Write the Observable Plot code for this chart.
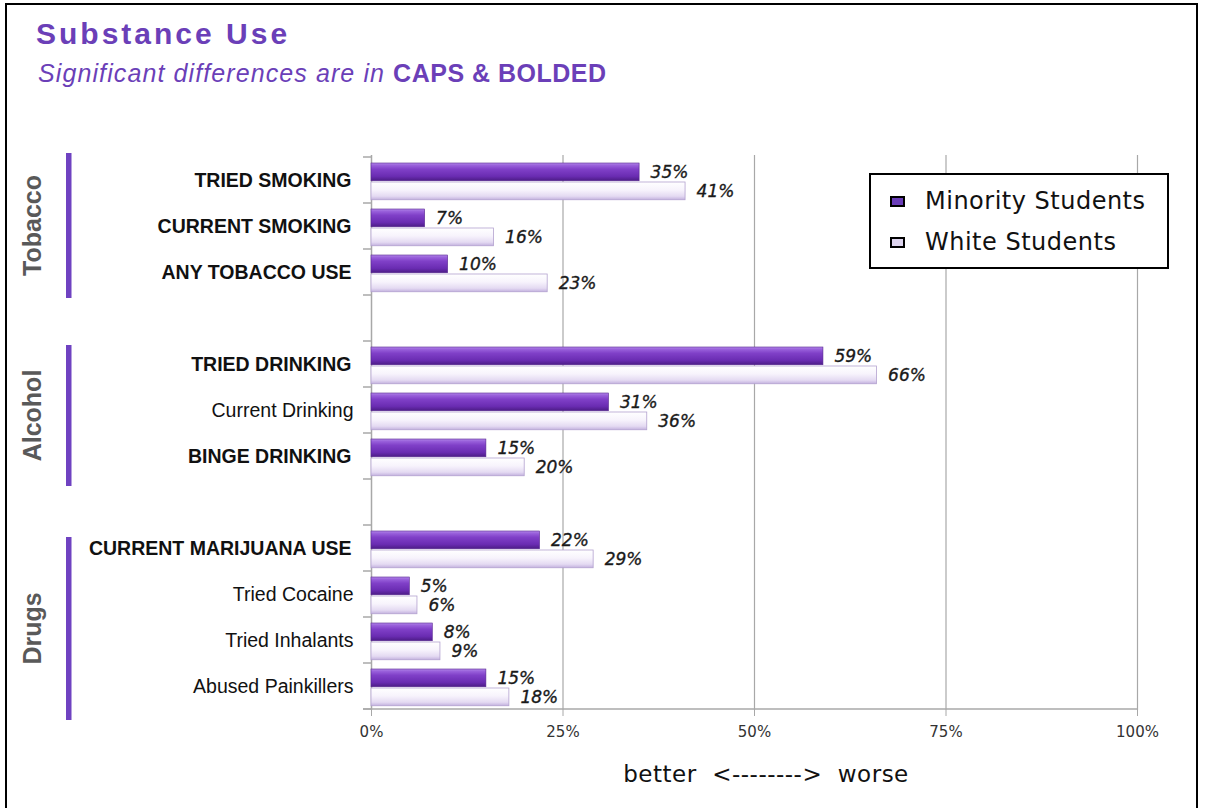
<!DOCTYPE html>
<html>
<head>
<meta charset="utf-8">
<script src="https://cdn.jsdelivr.net/npm/d3@7"></script>
<script src="https://cdn.jsdelivr.net/npm/@observablehq/plot@0.6"></script>
<style>
  html, body { margin: 0; padding: 0; background: #fff; }
  #page { position: relative; width: 1207px; height: 808px; overflow: hidden; background: #fff; }
  #frame { position: absolute; left: 5px; top: 3px; width: 1193px; height: 900px; border: 2.5px solid #000; box-sizing: border-box; }
  #title { position: absolute; left: 36px; top: 17px; font-family: "Liberation Sans", Arial, sans-serif; font-weight: bold; font-size: 30px; letter-spacing: 3px; color: #6b3fb8; }
  #subtitle { position: absolute; left: 38px; top: 59px; font-family: "Liberation Sans", Arial, sans-serif; font-style: italic; font-size: 25px; letter-spacing: 1.1px; color: #6b3fb8; }
  #subtitle b { font-style: normal; font-weight: bold; letter-spacing: 0.5px; }
  #chart { position: absolute; left: 0; top: 110px; }
  #legend { position: absolute; left: 869px; top: 173px; width: 300px; height: 96px; border: 2px solid #000; box-sizing: border-box; background: #fff; font-family: "DejaVu Sans", sans-serif; font-size: 24px; letter-spacing: 0.5px; color: #111; }
  .li { position: absolute; left: 19px; height: 28px; display: flex; align-items: center; }
  .sw { width: 11px; height: 7px; border: 2px solid #000; margin-right: 20px; }
  #better { position: absolute; left: 0; width: 1532px; top: 761px; text-align: center; font-family: "DejaVu Sans", sans-serif; font-size: 23px; color: #111; letter-spacing: 0.5px; white-space: pre; }
</style>
</head>
<body>
<div id="page">
  <div id="frame"></div>
  <div id="title">Substance Use</div>
  <div id="subtitle">Significant differences are in <b>CAPS &amp; BOLDED</b></div>
  <div id="chart"></div>
  <div id="legend">
    <div class="li" style="top:12px"><div class="sw" style="background:#6a3db8"></div>Minority Students</div>
    <div class="li" style="top:53px"><div class="sw" style="background:#ddd4ee"></div>White Students</div>
  </div>
  <div id="better">better  &lt;--------&gt;  worse</div>
</div>
<script>
// ---- data ----
const categories = ["TRIED SMOKING", "CURRENT SMOKING", "ANY TOBACCO USE",
  "TRIED DRINKING", "Current Drinking", "BINGE DRINKING",
  "CURRENT MARIJUANA USE", "Tried Cocaine", "Tried Inhalants", "Abused Painkillers"];
const groupOf = ["Tobacco", "Tobacco", "Tobacco", "Alcohol", "Alcohol", "Alcohol",
  "Drugs", "Drugs", "Drugs", "Drugs"];
const significant = [true, true, true, true, false, true, true, false, false, false];
const minority = [35, 7, 10, 59, 31, 15, 22, 5, 8, 15];
const white = [41, 16, 23, 66, 36, 20, 29, 6, 9, 18];
const groupNames = ["Tobacco", "Alcohol", "Drugs"];
const xTicks = [0, 25, 50, 75, 100];

// ---- build table ----
const rows = categories.map((c, i) => ({
  cat: c, group: groupOf[i], sig: significant[i], minority: minority[i] / 100, white: white[i] / 100
}));
const yDomain = [];
groupNames.forEach((g, gi) => {
  rows.filter(r => r.group === g).forEach(r => yDomain.push(r.cat));
  if (gi < groupNames.length - 1) yDomain.push("__gap" + gi);
});

const W = 1207, H = 698;
const mTop = 45, mBottom = 98, mLeft = 371, mRight = 70;
const step = (H - mTop - mBottom) / yDomain.length;

const defs = () => {
  const d = d3.create("svg:defs");
  const gm = d.append("linearGradient").attr("id", "gMin").attr("x1", 0).attr("y1", 0).attr("x2", 0).attr("y2", 1);
  [[0, "#b48ae8"], [0.12, "#9a62dc"], [0.35, "#8040c8"], [0.75, "#6a2cb2"], [1, "#4c1c86"]]
    .forEach(([o, c]) => gm.append("stop").attr("offset", o).attr("stop-color", c));
  const gw = d.append("linearGradient").attr("id", "gWhite").attr("x1", 0).attr("y1", 0).attr("x2", 0).attr("y2", 1);
  [[0, "#ffffff"], [0.45, "#f7f3fc"], [0.8, "#e4daf2"], [1, "#c3b1de"]]
    .forEach(([o, c]) => gw.append("stop").attr("offset", o).attr("stop-color", c));
  const f = d.append("filter").attr("id", "shadow").attr("x", "-5%").attr("y", "-30%").attr("width", "115%").attr("height", "180%");
  f.append("feDropShadow").attr("dx", 2).attr("dy", 2.5).attr("stdDeviation", 1.5)
    .attr("flood-color", "#777").attr("flood-opacity", 0.45);
  return d.node();
};

const valueText = (key, dyCenter) => Plot.text(rows, {
  y: "cat", x: key, text: d => Math.round(d[key] * 100) + "%",
  textAnchor: "start", dx: 11, dy: dyCenter - step / 2, fontSize: 17, fontStyle: "italic",
  fontFamily: "DejaVu Sans", fill: "#1a1a1a", stroke: "#1a1a1a", strokeWidth: 0.35, letterSpacing: 0.3
});

const plot = Plot.plot({
  width: W, height: H,
  marginTop: mTop, marginBottom: mBottom, marginLeft: mLeft, marginRight: mRight,
  style: { background: "transparent", overflow: "visible" },
  x: { domain: [0, 1], axis: null },
  y: { domain: yDomain, type: "band", padding: 0, axis: null },
  marks: [
    defs,
    Plot.gridX(xTicks.slice(1).map(d => d / 100), { stroke: "#a8a8a8", strokeOpacity: 1, strokeWidth: 1.2 }),
    Plot.ruleX([0], { stroke: "#a8a8a8", strokeWidth: 1.5 }),
    Plot.axisX(xTicks.map(d => d / 100), {
      tickFormat: d => Math.round(d * 100) + "%", tickSize: 6, stroke: "#a8a8a8",
      tickPadding: 10, fontSize: 15, fill: "#333", fontFamily: "DejaVu Sans", textStroke: "none",
      letterSpacing: 0.8
    }),
    Plot.barX(rows, { y: "cat", x: "minority", fill: "url(#gMin)", stroke: "#55248f", strokeWidth: 0.6,
      insetTop: 6, insetBottom: step - 24, ariaLabel: "minority-bars" }),
    Plot.barX(rows, { y: "cat", x: "white", fill: "url(#gWhite)", stroke: "#b3a2cf", strokeWidth: 0.8,
      insetTop: 25, insetBottom: step - 43, ariaLabel: "white-bars" }),
    valueText("minority", 15),
    valueText("white", 34),
    Plot.text(rows.filter(r => r.sig), { y: "cat", x: () => 0, text: "cat", textAnchor: "end", dx: -20,
      fontSize: 19.5, fontWeight: "bold", fontFamily: "Liberation Sans", fill: "#111", letterSpacing: 0.15 }),
    Plot.text(rows.filter(r => !r.sig), { y: "cat", x: () => 0, text: "cat", textAnchor: "end", dx: -18,
      fontSize: 19.5, fontFamily: "Liberation Sans", fill: "#111", letterSpacing: 0.6 })
  ]
});

// post-render decorations drawn from the plot's own scales
const svg = d3.select(plot);
svg.selectAll('g[aria-label="minority-bars"], g[aria-label="white-bars"]').attr("filter", "url(#shadow)");
const ys = plot.scale("y");
const xs = plot.scale("x");
const bw = ys.bandwidth;
const yPos = v => ys.apply(v);
const x0 = xs.apply(0);
const deco = svg.append("g");
// y-axis tick marks at band boundaries
const bounds = yDomain.map(v => yPos(v)).concat([yPos(yDomain[yDomain.length - 1]) + bw]);
bounds.forEach(b => {
  deco.append("line").attr("x1", x0 - 8).attr("x2", x0).attr("y1", b).attr("y2", b)
    .attr("stroke", "#a8a8a8").attr("stroke-width", 1.5);
});
// x baseline
const yBottom = bounds[bounds.length - 1];
deco.append("line").attr("x1", x0 - 8).attr("x2", xs.apply(1)).attr("y1", yBottom).attr("y2", yBottom)
  .attr("stroke", "#a8a8a8").attr("stroke-width", 1.5);
// group bars and labels
groupNames.forEach((g, gi) => {
  const cats = rows.filter(r => r.group === g).map(r => r.cat);
  const b0 = yPos(cats[0]);
  const b1 = yPos(cats[cats.length - 1]) + bw;
  const top = b0 - 4 + gi * 8;
  const bot = b1 + 3 + gi * 4;
  deco.append("rect").attr("x", 66).attr("y", top).attr("width", 5.5).attr("height", bot - top)
    .attr("fill", "#6f42c1");
  const mid = (top + bot) / 2;
  deco.append("text").attr("transform", `translate(41,${mid}) rotate(-90)`)
    .attr("text-anchor", "middle").attr("font-family", "Liberation Sans").attr("font-weight", "bold")
    .attr("font-size", 25).attr("fill", "#595959").text(g);
});

document.getElementById("chart").appendChild(plot);
</script>
</body>
</html>
